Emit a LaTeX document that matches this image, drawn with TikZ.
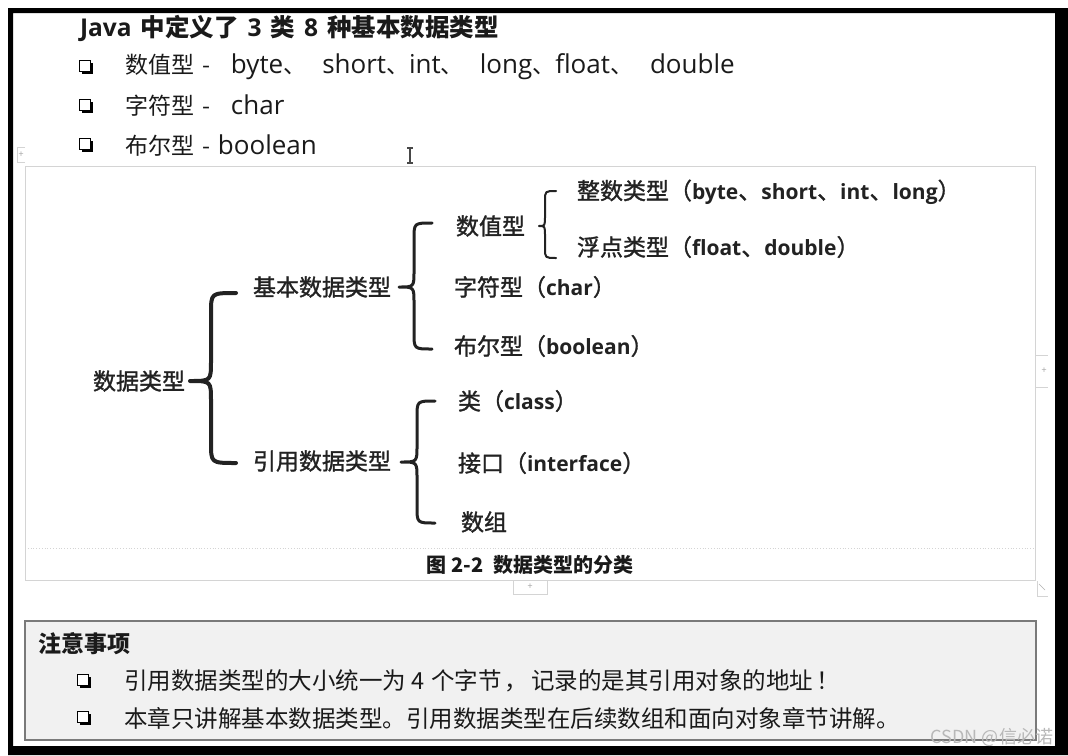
\documentclass[tikz,border=0pt]{standalone}
\usepackage{fontspec}
\usetikzlibrary{shadows}
\setmainfont{Noto Sans CJK SC}
\newfontfamily\lat{Open Sans}
\newfontfamily\diagfont[FakeBold=1.3]{Noto Sans CJK SC}
\definecolor{ink}{HTML}{1A1A1A}
\definecolor{dink}{HTML}{222222}
\definecolor{boxline}{HTML}{D4D4D4}
\definecolor{notefill}{HTML}{F1F1F1}
\definecolor{noteline}{HTML}{7A7A7A}
\definecolor{wm}{HTML}{B8B8B8}
\newcommand\mybrace[8]{%
  \draw[brc,line width=#8] (#1,#4) .. controls (#2,#4) .. (#2,#4+#7) -- (#2,#5-#7)
    .. controls (#2,#5) .. (#3,#5) .. controls (#2,#5) .. (#2,#5+#7)
    -- (#2,#6-#7) .. controls (#2,#6) .. (#1,#6);}
\newcommand\lw[1]{{\lat\fontsize{26}{28}\selectfont #1}}
\newcommand\dl[1]{{\lat\bfseries\fontsize{21}{24}\selectfont #1}}
\begin{document}
\begin{tikzpicture}[x=1pt,y=-1pt,
  every node/.style={inner sep=0pt, outer sep=0pt, text=ink},
  titletext/.style={font=\fontsize{24.5}{27}\selectfont\bfseries, anchor=west},
  itemtext/.style={font=\fontsize{23}{26}\selectfont, anchor=west},
  notetext/.style={font=\fontsize{23.5}{26}\selectfont, anchor=west},
  sqbul/.style={draw=black, fill=white, line width=1.3pt, minimum size=11.5pt,
    drop shadow={shadow xshift=2.4pt, shadow yshift=-2.4pt, fill=black, opacity=1}},
  lab/.style={font=\diagfont\fontsize{23}{26}\selectfont, text=dink},
  labw/.style={lab, anchor=west},
  brc/.style={draw=dink, line cap=round, line join=round},
  tab/.style={draw=boxline, line width=0.8pt},
  plus/.style={font=\fontsize{9}{10}\selectfont, text=gray!70}]
% canvas and frame
\fill[white] (0,0) rectangle (1068,755);
\fill[black, even odd rule] (8,8) rectangle (1068,755) (13,13) rectangle (1055,746);

% title and bullets
\node[titletext] (title) at (80,28) {{\lat Java}\hspace{9pt}中定义了\hspace{9pt}{\lat 3}\hspace{9pt}类\hspace{9pt}{\lat 8}\hspace{9pt}种基本数据类型};
\node[sqbul] (b1) at (85,66) {};
\node[sqbul] (b2) at (85,105) {};
\node[sqbul] (b3) at (85,144) {};
\node[itemtext] (t1) at (125,67) {数值型\hspace{9pt}-\hspace{20pt}\lw{byte}、\hspace{16pt}\lw{short}、\lw{int}、\hspace{16pt}\lw{long}、\lw{float}、\hspace{17pt}\lw{double}};
\node[itemtext] (t2) at (125,106) {字符型\hspace{9pt}-\hspace{20pt}\lw{char}};
\node[itemtext] (t3) at (125,146) {布尔型\hspace{9pt}-\hspace{7pt}\lw{boolean}};

% editor widgets
\draw[tab] (25,147) -- (17,147) -- (17,162) -- (25,162);
\node[plus] (pl) at (21,155) {+};
\draw[line width=1.2pt, draw=ink!80] (410,148) -- (410,163) (407,148) -- (413,148) (407,163) -- (413,163);

% figure box
\draw[boxline, line width=0.8pt] (25,166) rectangle (1035,580);
\draw[boxline, dotted, line width=0.8pt] (25,548) -- (1035,548);
\draw[tab] (1035,355) -- (1048,355) (1035,387) -- (1048,387);
\node[plus] (pr) at (1044,371) {+};
\draw[tab] (513,580) -- (513,594) -- (547,594) -- (547,580);
\node[plus] (pb) at (530,587) {+};
\draw[tab] (1037,581) -- (1037,596) -- (1048,596);
\draw[gray!60, line width=0.6pt] (1039,584) -- (1045,590);

% diagram
\node[lab] (root) at (139,381) {数据类型};
\node[lab] (basic) at (322,287) {基本数据类型};
\node[lab] (ref) at (322,461) {引用数据类型};
\node[labw] (num) at (456,226) {数值型};
\node[labw] (chr) at (454,287) {字符型（\dl{char}）};
\node[labw] (bool) at (454,346) {布尔型（\dl{boolean}）};
\node[labw] (int) at (577,192) {整数类型（\dl{byte}、\dl{short}、\dl{int}、\dl{long}）};
\node[labw] (flt) at (577,247) {浮点类型（\dl{float}、\dl{double}）};
\node[labw] (cls) at (458,401) {类（\dl{class}）};
\node[labw] (ifc) at (458,463) {接口（\dl{interface}）};
\node[labw] (arr) at (461,522) {数组};
\mybrace{236}{211}{190}{293}{381}{463}{20}{4pt}
\mybrace{432}{414}{399}{223}{287}{349}{16}{3pt}
\mybrace{435}{417}{401}{401}{462}{523}{16}{3pt}
\mybrace{556}{545}{539}{191}{226}{258}{10}{2pt}
\node[font=\fontsize{20}{22}\selectfont\bfseries] (cap) at (530,565) {图 2-2\hspace{10pt}数据类型的分类};

% notes box
\draw[fill=notefill, draw=noteline, line width=1.2pt] (25,621) rectangle (1036,740);
\node[font=\fontsize{23}{26}\selectfont\bfseries, anchor=west] (nh) at (38,644) {注意事项};
\node[sqbul] (nb1) at (83,680) {};
\node[sqbul] (nb2) at (83,717) {};
\node[notetext] (n1) at (124,681) {引用数据类型的大小统一为\hspace{6pt}4\hspace{6pt}个字节\hspace{3pt}，\hspace{3pt}记录的是其引用对象的地址\hspace{3pt}！};
\node[notetext] (n2) at (124,718) {本章只讲解基本数据类型。引用数据类型在后续数组和面向对象章节讲解。};
\node[font=\fontsize{18}{20}\selectfont, text=wm, anchor=east] (wmk) at (1053,737) {CSDN @信必诺};
\end{tikzpicture}
\end{document}
